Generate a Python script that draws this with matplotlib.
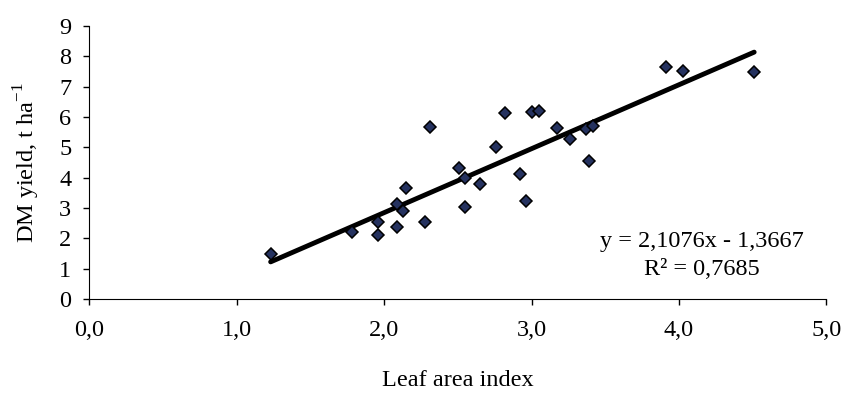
import numpy as np
import matplotlib
matplotlib.use('Agg')
import matplotlib.pyplot as plt

#Data section ---------------------------------------------
lai = [1.23, 1.78, 1.96, 1.96, 2.09, 2.09, 2.13, 2.15,
       2.31, 2.28, 2.51, 2.55, 2.55, 2.65, 2.76, 2.82,
       2.92, 2.96, 3.00, 3.05, 3.17, 3.26, 3.37, 3.42,
       3.39, 3.91, 4.03, 4.51]
dm_yield = [1.47, 2.20, 2.55, 2.10, 2.37, 3.13, 2.90, 3.67,
            5.66, 2.55, 4.33, 4.00, 3.02, 3.80, 5.01, 6.14,
            4.12, 3.23, 6.17, 6.21, 5.65, 5.29, 5.62, 5.70,
            4.55, 7.66, 7.51, 7.50]
slope = 2.1076
intercept = -1.3667
r2 = 0.7685
xticks = [0, 1, 2, 3, 4, 5]
yticks = [0, 1, 2, 3, 4, 5, 6, 7, 8, 9]

#Plot section ---------------------------------------------
plt.rcParams['font.family'] = ['Liberation Serif', 'DejaVu Serif']
plt.rcParams['mathtext.fontset'] = 'custom'
plt.rcParams['mathtext.rm'] = 'Liberation Serif'
fs = 17.5

fig = plt.figure(figsize=(8.45, 3.94), dpi=100)
ax1 = fig.add_axes([0.1057, 0.241, 0.8723, 0.693])

ax1.plot(lai, dm_yield, 'D', markersize=6.3, markerfacecolor='#25325f',
         markeredgecolor='black', markeredgewidth=1.1, zorder=3)

x_fit = np.array([min(lai), max(lai)])
ax1.plot(x_fit, slope * x_fit + intercept, '-', color='black', linewidth=3.5,
         solid_capstyle='round', zorder=2)

ax1.set_xlim(0, 5)
ax1.set_ylim(0, 9)
ax1.set_xticks(xticks)
ax1.set_xticklabels(['{:.1f}'.format(v).replace('.', ',') for v in xticks])
ax1.set_yticks(yticks)
ax1.tick_params(axis='both', labelsize=fs, direction='out', length=4, width=1)
ax1.tick_params(axis='x', pad=11)
ax1.tick_params(axis='y', pad=9)
ax1.spines['top'].set_visible(False)
ax1.spines['right'].set_visible(False)

ax1.set_xlabel('Leaf area index', fontsize=fs, labelpad=21)
ax1.set_ylabel('DM yield, t ha$^{-1}$', fontsize=fs, labelpad=12)

eq = 'y = {}x - {}'.format(str(slope).replace('.', ','), str(-intercept).replace('.', ','))
ax1.text(4.157, 1.89, eq, fontsize=fs, ha='center', va='center')
ax1.text(4.157, 0.98, 'R² = {}'.format(str(r2).replace('.', ',')), fontsize=fs,
         ha='center', va='center')

plt.savefig('out.png', dpi=100)
